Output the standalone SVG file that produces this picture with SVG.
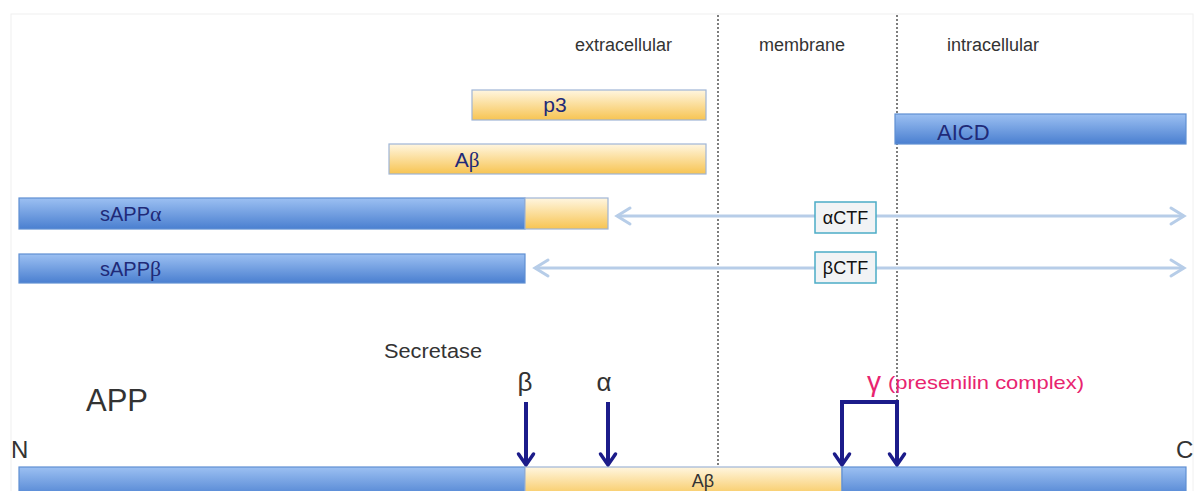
<svg xmlns="http://www.w3.org/2000/svg" width="1198" height="491" viewBox="0 0 1198 491">
<defs>
<linearGradient id="gBlue" x1="0" y1="0" x2="0" y2="1">
<stop offset="0" stop-color="#9cc0f2"/><stop offset="1" stop-color="#4a7fd0"/>
</linearGradient>
<linearGradient id="gYel" x1="0" y1="0" x2="0" y2="1">
<stop offset="0" stop-color="#fff6e0"/><stop offset="1" stop-color="#f7c452"/>
</linearGradient>
<marker id="mNavy" markerUnits="userSpaceOnUse" markerWidth="30" markerHeight="30" refX="0" refY="0" orient="auto" overflow="visible">
<path d="M-11,-7.5 L0,0 L-11,7.5" fill="none" stroke="#1c1c8a" stroke-width="3.5" stroke-linecap="round" stroke-linejoin="miter"/>
</marker>
<marker id="mLight" markerUnits="userSpaceOnUse" markerWidth="30" markerHeight="30" refX="0" refY="0" orient="auto-start-reverse" overflow="visible">
<path d="M-13,-8 L0,0 L-13,8" fill="none" stroke="#b7cde8" stroke-width="3" stroke-linecap="round"/>
</marker>
</defs>
<style>
.lbl{font-family:"Liberation Sans",Arial,sans-serif;fill:#333}
.bt{font-family:"Liberation Sans",Arial,sans-serif;fill:#1f2a78}
.gr{font-family:"Liberation Serif","Times New Roman",serif}
.blue{fill:url(#gBlue);stroke:#5f8fd2;stroke-width:1.2}
.yel{fill:url(#gYel);stroke:#9fb5d6;stroke-width:1.2}
.dash{stroke:#5e5e5e;stroke-width:1.6;stroke-dasharray:2 2;fill:none}
.navy{stroke:#1c1c8a;stroke-width:4;fill:none}
.ctf{stroke:#b7cde8;stroke-width:3;fill:none}
.box{fill:#f1f3f5;stroke:#4bacc6;stroke-width:1.5}
.boxt{font-family:"Liberation Sans",Arial,sans-serif;fill:#111;font-size:18px}
</style>
<rect x="0" y="0" width="1198" height="491" fill="#ffffff"/>
<rect x="11" y="14" width="1182" height="490" fill="none" stroke="#f0f0f0" stroke-width="1"/>

<g id="regions">
<line class="dash" x1="718" y1="15" x2="718" y2="467"/>
<line class="dash" x1="897" y1="15" x2="897" y2="467"/>
<text class="lbl" x="575" y="51" font-size="18">extracellular</text>
<text class="lbl" x="759" y="51" font-size="18">membrane</text>
<text class="lbl" x="947" y="51" font-size="18">intracellular</text>
</g>

<g id="p3">
<rect class="yel" x="472" y="90" width="234" height="30"/>
<text class="bt" x="555" y="112" font-size="21" text-anchor="middle">p3</text>
</g>
<g id="abeta-top">
<rect class="yel" x="389" y="144" width="317" height="30"/>
<text class="bt" x="467" y="167" font-size="21" text-anchor="middle">A<tspan class="gr">β</tspan></text>
</g>
<g id="aicd">
<rect class="blue" x="895" y="114" width="291" height="30"/>
<text class="bt" x="937" y="140" font-size="22">AICD</text>
</g>
<g id="sappa">
<rect class="blue" x="19" y="198" width="506" height="31"/>
<rect class="yel" x="525" y="198" width="83" height="31"/>
<text class="bt" x="100" y="221" font-size="20">sAPP<tspan class="gr" font-size="22">α</tspan></text>
</g>
<g id="sappb">
<rect class="blue" x="19" y="254" width="506" height="29"/>
<text class="bt" x="100" y="276" font-size="20">sAPP<tspan class="gr" font-size="22">β</tspan></text>
</g>

<g id="connectors">
<line class="ctf" x1="617" y1="216" x2="1184" y2="216" marker-start="url(#mLight)" marker-end="url(#mLight)"/>
<line class="ctf" x1="535" y1="268" x2="1184" y2="268" marker-start="url(#mLight)" marker-end="url(#mLight)"/>
<line class="navy" x1="526" y1="402" x2="526" y2="465" marker-end="url(#mNavy)"/>
<line class="navy" x1="608" y1="402" x2="608" y2="465" marker-end="url(#mNavy)"/>
<path class="navy" d="M842,465 V402 H897 V465" stroke-linejoin="miter"/>
<line class="navy" x1="842" y1="440" x2="842" y2="465" marker-end="url(#mNavy)"/>
<line class="navy" x1="897" y1="440" x2="897" y2="465" marker-end="url(#mNavy)"/>
</g>

<g id="actf">
<rect class="box" x="815" y="202" width="61" height="31"/>
<text class="boxt" x="845.5" y="224" text-anchor="middle">αCTF</text>
</g>
<g id="bctf">
<rect class="box" x="815" y="252" width="61" height="31"/>
<text class="boxt" x="845.5" y="274" text-anchor="middle">βCTF</text>
</g>

<g id="labels">
<text class="lbl" x="384" y="358" font-size="20" textLength="98" lengthAdjust="spacingAndGlyphs">Secretase</text>
<text class="lbl" x="86" y="411" font-size="31" fill="#222">APP</text>
<text class="lbl" x="11" y="458" font-size="24">N</text>
<text class="lbl" x="1176" y="458" font-size="24">C</text>
<text class="lbl" x="525" y="391" font-size="26" text-anchor="middle">β</text>
<text class="lbl" x="604" y="391" font-size="26" text-anchor="middle">α</text>
<text x="874" y="391" font-size="28" text-anchor="middle" font-family="Liberation Sans, Arial, sans-serif" fill="#e8246f">γ</text>
<text x="888" y="389" font-size="19" font-family="Liberation Sans, Arial, sans-serif" fill="#e8246f" textLength="196" lengthAdjust="spacingAndGlyphs">(presenilin complex)</text>
</g>

<g id="app">
<rect class="blue" x="19" y="467" width="506" height="32"/>
<rect class="yel" x="525" y="467" width="317" height="32"/>
<rect class="blue" x="842" y="467" width="344" height="32"/>
<text class="lbl" x="703" y="487" font-size="18" text-anchor="middle" fill="#222">Aβ</text>
</g>
</svg>
